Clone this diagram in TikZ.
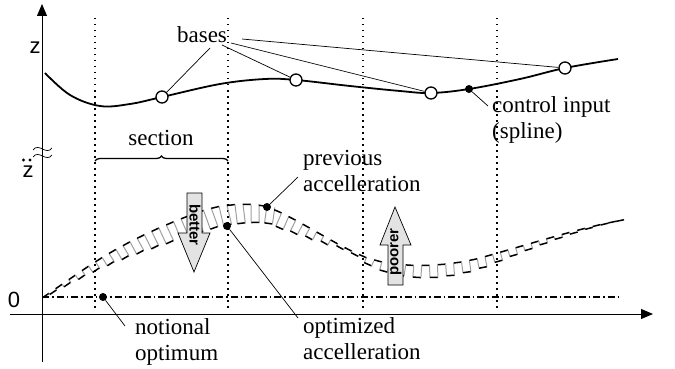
\documentclass[tikz,border=0pt]{standalone}
\usepackage{fontspec}
\setmainfont{Liberation Serif}
\newfontfamily\axisfont{Liberation Sans}
\usetikzlibrary{arrows.meta,decorations.markings,decorations.pathreplacing}

% one period of the square wave between previous and optimized acceleration
\newcommand\combmark{%
  \pgfmathsetmacro\cs{min(1,max(0,\pgfkeysvalueof{/pgf/decoration/mark info/sequence number}*16/640))}%
  \ifdim\cs pt<0.54pt
    \pgfmathsetmacro\cu{\cs/0.54}%
    \pgfmathsetmacro\cd{20*sin(180*\cu*sqrt(sqrt(\cu)))}%
  \else
    \pgfmathsetmacro\ct{(\cs-0.54)/0.46}%
    \pgfmathsetmacro\cd{12*sin(180*\ct*(2-\ct))}%
  \fi
  \draw[black, line width=1.5pt] (0pt,0pt) -- (8pt,0pt);
  \draw[gray!75, line width=1pt] (8pt,0pt) -- (8pt,-\cd pt);
  \draw[black, line width=1.5pt] (8pt,-\cd pt) -- (16pt,-\cd pt);
  \draw[gray!75, line width=1pt] (16pt,-\cd pt) -- (16pt,0pt);
}

\begin{document}
\begin{tikzpicture}[x=1pt,y=-1pt,
  lbl/.style={font=\fontsize{23}{25.5}\selectfont, inner sep=0pt, align=left},
  axlbl/.style={font=\axisfont\fontsize{22}{24}\selectfont, inner sep=0pt},
  guide/.style={line width=1.5pt, dash pattern=on 1.5pt off 4.5pt},
  leader/.style={line width=0.7pt},
  basept/.style={circle, draw, fill=white, line width=1.3pt, minimum size=12pt, inner sep=0pt},
  dotpt/.style={circle, fill=black, minimum size=8pt, inner sep=0pt},
  blockarrow/.style={draw, fill=gray!22, line width=0.7pt},
  arrowtext/.style={font=\axisfont\bfseries\fontsize{15}{15}\selectfont, inner sep=0pt},
  axis/.style={line width=0.8pt, -{Triangle[length=12pt,width=10pt]}},
  comb/.style={postaction={decorate}, decoration={markings, mark=between positions 0.5pt and 1 step 16pt with {\combmark}}},
]
\useasboundingbox (0,0) rectangle (675,369);

% axes
\draw[axis] (42,362) -- (42,4);
\draw[axis] (10,314) -- (653,314);

% axis break
\draw[line width=0.7pt] (33,150) .. controls (39,142) and (46,156) .. (52,148);
\draw[line width=0.7pt] (33,157) .. controls (39,149) and (46,163) .. (52,155);

% section guides
\foreach \gx in {95,228,363,497} \draw[guide] (\gx,18) -- (\gx,312);

% zero line (notional optimum)
\draw[line width=1.5pt, dash pattern=on 7pt off 3pt on 1.5pt off 3pt] (42,297) -- (618,297);

% axis labels
\node[axlbl] (zlab) at (35,48) {z};
\node[axlbl] (zddlab) at (28,172) {z};
\fill (23.5,160) circle (1.7pt) (30,160) circle (1.7pt);
\node[axlbl] (zero) at (14,300) {0};

% control input spline
\draw[line width=1.8pt] plot[smooth, tension=0.6] coordinates {(45,73) (70,95) (100,106) (130,104) (162,97) (220,84) (265,79) (296,80) (350,86) (400,91) (431,93) (469,89) (520,79) (565,68) (618,59)};
\node[basept] (k1) at (162,97) {};
\node[basept] (k2) at (296,80) {};
\node[basept] (k3) at (431,93) {};
\node[basept] (k4) at (565,68) {};
\node[dotpt] (ctl) at (469,89) {};

% bases label
\node[lbl, anchor=base] (bases) at (202,43) {bases};
\coordinate (bl1) at (210,48);
\coordinate (bl2) at (222,45);
\coordinate (bl3) at (231,43);
\coordinate (bl4) at (242,39);
\draw[leader] (bl1) -- (k1);
\draw[leader] (bl2) -- (k2);
\draw[leader] (bl3) -- (k3);
\draw[leader] (bl4) -- (k4);

% control input label (base anchor sits on the last line)
\node[lbl, anchor=base west] (ctltxt) at (492,138) {control input\\(spline)};
\coordinate (cl) at (488,106);
\draw[leader] (ctl) -- (cl);

% section brace
\node[lbl, anchor=base] (sec) at (161,145) {section};
\draw[line width=1.3pt, decorate, decoration={brace, amplitude=5pt}] (95,161) -- (228,161);

% accelerations: previous (upper) and optimized (lower) as a square wave
\path[comb] (42,298) .. controls (60,286) and (85,268) .. (100,259)
  .. controls (130,240) and (170,222) .. (205,210)
  .. controls (225,204) and (255,202) .. (270,208)
  .. controls (300,220) and (335,245) .. (365,257)
  .. controls (395,268) and (440,268) .. (480,258)
  .. controls (530,244) and (580,228) .. (618,221);

% better / poorer arrows
\draw[blockarrow] (187,193) -- (202,193) -- (202,233) -- (210,233) -- (194,272) -- (178,233) -- (187,233) -- cycle;
\node[arrowtext, rotate=-90] (better) at (195,225) {better};
\draw[blockarrow] (388,285) -- (403,285) -- (403,245) -- (411,245) -- (395,207) -- (380,245) -- (388,245) -- cycle;
\node[arrowtext, rotate=90] (poorer) at (396,252) {poorer};

% marked points and their labels
\node[dotpt] (prev) at (267,207) {};
\node[dotpt] (opt) at (227,226) {};
\node[dotpt] (nopt) at (103,297) {};

\node[lbl, anchor=base west] (prevtxt) at (303,191) {previous\\accelleration};
\coordinate (pl) at (298,177);
\draw[leader] (prev) -- (pl);

\node[lbl, anchor=base west] (opttxt) at (303,359) {optimized\\accelleration};
\coordinate (ol) at (298,318);
\draw[leader] (opt) -- (ol);

\node[lbl, anchor=base west] (nottxt) at (135,360) {notional\\optimum};
\coordinate (nl) at (125,326);
\draw[leader] (nopt) -- (nl);
\end{tikzpicture}
\end{document}
